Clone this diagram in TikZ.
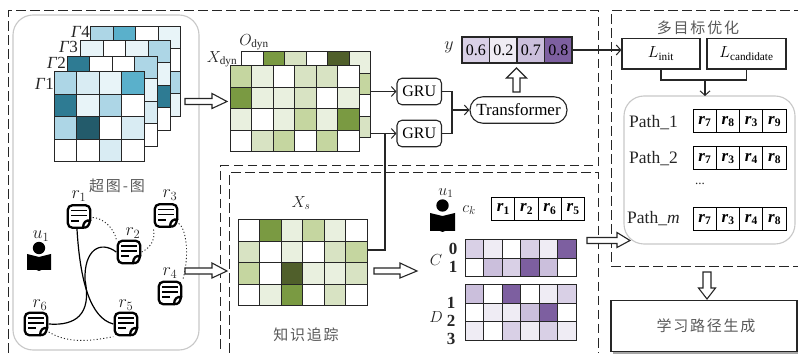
\RequirePackage{fix-cm}
\documentclass[tikz,border=0pt]{standalone}
\usepackage{fontspec}
\setmainfont{Liberation Serif}
\newfontfamily\cjk[LetterSpace=12]{Noto Sans CJK SC}
\usetikzlibrary{arrows.meta}
\definecolor{b1}{HTML}{E8F4F8}\definecolor{b2}{HTML}{D9ECF3}\definecolor{b3}{HTML}{ADD6E6}
\definecolor{b4}{HTML}{5AB0CB}\definecolor{b5}{HTML}{2E7B93}\definecolor{b6}{HTML}{235B6B}
\definecolor{g1}{HTML}{E9F0DF}\definecolor{g2}{HTML}{D8E3C3}\definecolor{g3}{HTML}{C5D6A0}
\definecolor{g4}{HTML}{7A9A42}\definecolor{g5}{HTML}{505F2B}
\definecolor{p1}{HTML}{EFECF4}\definecolor{p2}{HTML}{D9D0E6}\definecolor{p3}{HTML}{CBBFDC}
\definecolor{p4}{HTML}{7D5FA0}
\definecolor{ink}{HTML}{262626}\definecolor{edgegray}{HTML}{C8C8C8}\definecolor{cjkgray}{HTML}{5A5A5A}
\tikzset{
  cellst/.style={draw=ink,line width=1pt},
  dashbox/.style={draw=ink,line width=1pt,dash pattern=on 9.5pt off 4.5pt},
  panel/.style={draw=edgegray,line width=1.1pt,rounded corners=20pt},
  conn/.style={draw=ink,line width=1.05pt},
  arr/.style={conn,-{Straight Barb[length=4.5pt,width=10pt,line width=1pt]}},
  hollow/.style={draw=ink,fill=white,line width=1.1pt,line join=miter},
  rbtn/.style={draw=ink,line width=1.1pt,rounded corners=5pt,inner sep=0pt,font=\fontsize{16}{16}\selectfont},
  plain/.style={draw=ink,line width=1.2pt,inner sep=0pt,font=\fontsize{16}{16}\selectfont},
  lbl/.style={inner sep=0pt,text=ink},
  mlab/.style={lbl,font=\fontsize{18}{18}\selectfont},
  zh/.style={inner sep=0pt,text=cjkgray,font=\cjk\fontsize{15}{15}\selectfont},
  rcell/.style={draw=black,line width=1pt,inner sep=0pt,minimum width=23.25pt,minimum height=23pt,font=\fontsize{17}{17}\selectfont},
  docn/.style={inner sep=0pt,minimum width=25pt,minimum height=25pt},
  dotl/.style={draw=ink,line width=.9pt,dash pattern=on 1.1pt off 2.2pt},
  solidl/.style={draw=black,line width=1.2pt},
}
% name, x, y, cols, rows, cellw, cellh, colours
\newcommand{\pxgrid}[8]{%
  \node[inner sep=0pt,outer sep=0pt,minimum width=#4*#6*1pt,minimum height=#5*#7*1pt] (#1) at (#2+#4*#6/2,#3+#5*#7/2) {};
  \foreach \c [count=\i from 0] in {#8} {%
    \pgfmathtruncatemacro\cx{mod(\i,#4)}%
    \pgfmathtruncatemacro\cy{int(\i/#4)}%
    \draw[cellst,fill=\c] (#2+\cx*#6,#3+\cy*#7) rectangle ++(#6,#7);
  }%
}
\newcommand{\rr}[1]{\textbf{\textit{r}}\raisebox{-2.5pt}{\fontsize{11.5}{11.5}\selectfont\textbf{#1}}}
\newcommand{\rbox}[4]{%
  \foreach \d [count=\i from 0] in {#4} {%
    \node[rcell] (#1-\i) at (#2+11.62+\i*23.25,#3+11.5) {\rr{\d}};
  }%
}
% doc icon: name, x, y
\newcommand{\docicon}[3]{%
  \node[docn] (#1) at (#2,#3) {};
  \begin{scope}[shift={(#2,#3)}]
    \draw[black,line width=2.3pt,line join=round,line cap=round,rounded corners=4.5pt]
      (4,11.2) -- (-11.2,11.2) -- (-11.2,-11.2) -- (11.2,-11.2) -- (11.2,4);
    \draw[black,line width=2.3pt,line cap=round]
      (11.2,3.5) .. controls (10,10) and (8,11.2) .. (4,11.2)
      (11,4) .. controls (7,3.6) and (4.4,5.5) .. (4,11);
    \draw[black,line width=1.7pt] (-8,-6) -- (8,-6) (-8,-1) -- (8,-1) (-8,4.2) -- (0,4.2);
  \end{scope}%
}
% reader: name, x, head y, half width, book top, book bottom
\newcommand{\reader}[6]{%
  \node[inner sep=0pt,minimum width=2*#4*1pt,minimum height=24pt] (#1) at (#2,#3+8) {};
  \fill[black] (#2,#3) circle (6.2);
  \fill[black] (#2-#4,#5) -- (#2,#5+3) -- (#2+#4,#5) -- (#2+#4,#6-1) -- (#2+2.5,#6-1) -- (#2,#6) -- (#2-2.5,#6-1) -- (#2-#4,#6-1) -- cycle;
}
% hollow arrows
\newcommand{\harrowR}[4]{% x0, y, head start, tip
  \draw[hollow] (#1,#2-3) -- (#3,#2-3) -- (#3,#2-8) -- (#4,#2) -- (#3,#2+7) -- (#3,#2+3) -- (#1,#2+3) -- cycle;
}
\begin{document}
\begin{tikzpicture}[x=1pt,y=-1pt]
\useasboundingbox (0,0) rectangle (798,355);
\fill[white] (0,0) rectangle (798,355);

% dashed frames
\draw[dashbox] (8,353) -- (8,11) -- (598,11) -- (598,166) -- (220,166) -- (220,353);
\draw[dashbox] (229,353) -- (229,173) -- (598,173) -- (598,353);
\draw[dashbox] (611,262) -- (611,11) -- (798,11);
\draw[dashbox] (611,267) -- (798,267);

% left panel
\draw[panel] (13,15) rectangle (199,350);

% Gamma grids
\pxgrid{gamma4}{90.5}{26.5}{4}{4}{22.5}{22.5}{b3,b4,white,b1,white,white,white,white,white,white,white,b3,white,white,white,b1}
\pxgrid{gamma3}{80.5}{40.5}{4}{4}{22.5}{22.5}{b1,white,b1,b3,white,white,white,b1,white,white,white,b5,white,white,white,white}
\pxgrid{gamma2}{67}{56.5}{4}{4}{22.5}{22.5}{b5,white,white,b3,white,white,white,b1,white,white,white,b2,white,white,white,white}
\pxgrid{gamma1}{54}{72}{4}{4}{22.5}{22.5}{b3,b2,b1,b4,b5,b1,b3,white,b3,b6,white,b2,white,white,b2,white}
\node[lbl,font=\fontsize{17}{17}\selectfont,anchor=east] (g1l) at (54,84) {\textit{Γ}1};
\node[lbl,font=\fontsize{17}{17}\selectfont,anchor=east] (g2l) at (66,63) {\textit{Γ}2};
\node[lbl,font=\fontsize{17}{17}\selectfont,anchor=east] (g3l) at (78,47) {\textit{Γ}3};
\node[lbl,font=\fontsize{17}{17}\selectfont,anchor=east] (g4l) at (90,32) {\textit{Γ}4};

% hypergraph
\node[zh] (hg) at (117,186) {超图-图};
\docicon{r1}{79}{216.5}
\docicon{r2}{129}{252}
\docicon{r3}{166}{215.5}
\docicon{r4}{170}{293}
\docicon{r5}{126}{324}
\docicon{r6}{36}{324}
\node[mlab] (r1l) at (79,196) {$r_1$};
\node[mlab] (r2l) at (133,233) {$r_2$};
\node[mlab] (r3l) at (170,195) {$r_3$};
\node[mlab] (r4l) at (170,273) {$r_4$};
\node[mlab] (r5l) at (126,305) {$r_5$};
\node[mlab] (r6l) at (40,305) {$r_6$};
\draw[solidl] (r1.south) ++(-2,0) .. controls (80,280) and (90,318) .. (r5.west);
\draw[solidl] (r2.west) .. controls (100,240) and (84,250) .. (85,280) .. controls (92,315) and (75,326) .. (r6.east);
\draw[dotl] (r1.east) ++(1,1) .. controls (103,218) and (114,228) .. (r2.north west);
\draw[dotl] (r2.east) .. controls (150,248) and (156,240) .. (r3.south west);
\draw[dotl] (r3.east) ++(0,8) .. controls (186,228) and (190,255) .. (r4.north east);
\draw[dotl] (r6.east) ++(0,8) .. controls (70,345) and (95,340) .. (r5.west|-r5.south);
\reader{u1}{39}{248}{12}{254}{271}
\node[mlab] (u1l) at (41,236) {$u_1$};

% green grids
\pxgrid{odyn}{241.5}{52}{6}{4}{21.5}{21.5}{white,g4,g2,white,g5,g1,white,white,white,white,white,g3,white,white,white,white,white,white,white,white,white,white,white,g2}
\pxgrid{xdyn}{230}{66}{6}{4}{21.5}{21.5}{g3,g1,white,g2,g2,white,g4,g1,g1,g2,white,g1,g1,white,g1,g3,g1,g4,white,g2,g3,white,g3,white}
\node[lbl,font=\fontsize{16}{16}\selectfont] (odynl) at (254,42) {$O_{\mathrm{dyn}}$};
\node[lbl,font=\fontsize{16}{16}\selectfont] (xdynl) at (222,59) {$X_{\mathrm{dyn}}$};
\harrowR{185}{101.5}{212}{227}

% GRU, transformer
\node[rbtn,minimum width=44.5pt,minimum height=26.5pt] (gru1) at (419.25,91.5) {GRU};
\node[rbtn,minimum width=44.5pt,minimum height=26.5pt] (gru2) at (419.25,133.5) {GRU};
\node[rbtn,rounded corners=13pt,minimum width=97pt,minimum height=26.5pt,font=\fontsize{17}{17}\selectfont] (tf) at (518.5,110) {Transformer};
\draw[arr] (gru1.west-|odyn.east) -- (gru1.west);
\draw[arr] (gru2.west-|odyn.east) -- (gru2.west);
\coordinate (mrg) at (452,110);
\draw[conn] (gru1.east) -| (mrg);
\draw[conn] (gru2.east) -| (mrg);
\draw[arr] (mrg) -- (tf.west);

% y vector
\foreach \v/\cc [count=\i from 0] in {0.6/p2,0.2/p1,0.7/p3,0.8/p4} {
  \node[draw=ink,line width=1.1pt,fill=\cc,inner sep=0pt,minimum width=27.5pt,minimum height=26pt,font=\fontsize{16}{16}\selectfont] (y\i) at (475.75+\i*27.5,50) {\v};
}
\node[mlab] (yl) at (449,47) {$y$};
\draw[hollow] (513,92) -- (513,78) -- (506.5,78) -- (516.5,68) -- (526.5,78) -- (520,78) -- (520,92) -- cycle;

% knowledge tracing
\pxgrid{xs}{238}{220}{6}{4}{21.5}{21.5}{white,g4,g1,g3,g1,white,g2,white,g1,white,g2,g3,g3,white,g5,g1,g1,g2,white,g1,g4,white,g2,white}
\node[lbl,font=\fontsize{16}{16}\selectfont] (xsl) at (301,203) {$X_s$};
\node[zh] (kt) at (306,335) {知识追踪};
\coordinate (xsturn) at (385,250);
\draw[conn] (xs.east|-xsturn) -- (xsturn) |- (gru2.west-|odyn.east);
\harrowR{185}{271}{212}{227}
\harrowR{374}{271}{400}{417}

% right data
\reader{u2}{442.5}{205.5}{12.5}{213}{232}
\node[lbl,font=\fontsize{16}{16}\selectfont] (u2l) at (446,193) {$u_1$};
\node[lbl,font=\fontsize{16}{16}\selectfont] (ck) at (469,210) {$c_k$};
\rbox{ckb}{491.5}{197.5}{1,2,6,5}
\pxgrid{cg}{465}{240}{6}{2}{18.5}{18.5}{p2,p1,white,p2,p1,p4,white,p3,p2,p4,p3,white}
\pxgrid{dg}{465}{285}{6}{3}{18.5}{18.5}{p3,white,p4,white,p1,p2,white,p1,p1,p3,p4,white,p1,white,p2,p1,p2,p1}
\node[lbl,font=\fontsize{16}{16}\selectfont] (cl) at (436,260) {$C$};
\node[lbl,font=\fontsize{16}{16}\selectfont] (dl) at (436,317) {$D$};
\node[lbl,font=\bfseries\fontsize{17}{17}\selectfont] (c0) at (453,249) {0};
\node[lbl,font=\bfseries\fontsize{17}{17}\selectfont] (c1) at (453,267) {1};
\node[lbl,font=\bfseries\fontsize{17}{17}\selectfont] (d1) at (451,303) {1};
\node[lbl,font=\bfseries\fontsize{17}{17}\selectfont] (d2) at (451,321) {2};
\node[lbl,font=\bfseries\fontsize{17}{17}\selectfont] (d3) at (451,339) {3};

% multi-objective
\node[zh] (mo) at (698,28) {多目标优化};
\node[plain,minimum width=78pt,minimum height=30.5pt] (linit) at (661,53.75) {$L_{\mathrm{init}}$};
\node[plain,minimum width=79pt,minimum height=30.5pt] (lcand) at (746.5,53.75) {$L_{\mathrm{candidate}}$};
\draw[arr] (y3.east) -- (y3.east-|linit.west);
\coordinate (lmid) at (705,80);
\node[inner sep=0pt,outer sep=0pt,minimum width=171pt,minimum height=148pt] (paths) at (709.5,170) {};
\draw[panel] (paths.south west) rectangle (paths.north east);
\draw[conn] (linit.south) |- (lmid) -| (lcand.south);
\draw[arr] (lmid) -- (lmid|-paths.north);
\node[lbl,anchor=west,font=\fontsize{17.5}{17.5}\selectfont] (p1l) at (629,123) {Path\_1};
\node[lbl,anchor=west,font=\fontsize{17.5}{17.5}\selectfont] (p2l) at (629,159) {Path\_2};
\node[lbl,anchor=west,font=\fontsize{17.5}{17.5}\selectfont] (pml) at (627,219) {Path\_\textit{m}};
\rbox{pa}{693}{110}{7,8,3,9}
\rbox{pb}{693}{147}{7,3,4,8}
\rbox{pc}{693}{208}{7,3,4,8}
\node[lbl,font=\fontsize{13}{13}\selectfont] (dots) at (700,184) {...};
\harrowR{587}{240.5}{617}{630}

% learning path generation
\draw[hollow] (703,272) -- (711,272) -- (711,288) -- (715.5,288) -- (707,299) -- (698.5,288) -- (703,288) -- cycle;
\fill[black!35] (613,303) rectangle (798,354);
\node[draw=ink,fill=white,line width=1.2pt,inner sep=0pt,minimum width=186pt,minimum height=51.5pt] (lp) at (704,326) {};
\node[zh] (lpl) at (706,326) {学习路径生成};
\end{tikzpicture}
\end{document}
